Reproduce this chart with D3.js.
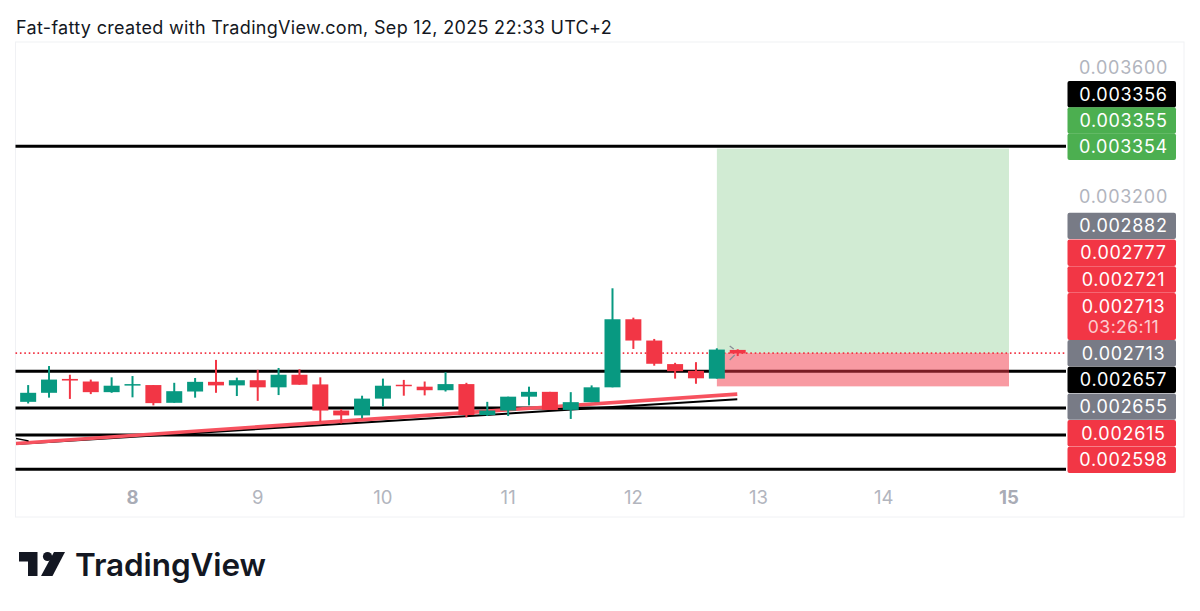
<!DOCTYPE html>
<html><head><meta charset="utf-8">
<script src="https://cdn.jsdelivr.net/npm/d3@7"></script>
<style>html,body{margin:0;padding:0;background:#fff}svg{display:block}text{font-family:Inter,"Noto Sans",sans-serif}</style>
</head><body><div id="chart"></div>
<script>
// Candle values (price), one per 4-hour bar
const open  = [2562,2590,2633,2625,2592,2613,2614,2559,2594,2624,2613,2629,2607,2646,2616,2535,2520,2572,2615,2609,2598,2617,2521,2535,2578,2593,2537,2561,2607,2818,2752,2679,2658,2634,2723];
const high  = [2614,2673,2646,2631,2638,2642,2614,2621,2636,2692,2637,2661,2667,2663,2638,2539,2581,2634,2630,2625,2654,2621,2562,2578,2609,2593,2592,2613,2914,2823,2757,2683,2685,2728,2725];
const low   = [2557,2575,2571,2586,2590,2576,2551,2559,2575,2590,2580,2565,2583,2615,2501,2495,2511,2547,2581,2582,2594,2514,2518,2518,2551,2537,2509,2561,2607,2726,2674,2634,2618,2634,2704];
const close = [2590,2631,2628,2592,2612,2617,2558,2595,2624,2613,2629,2607,2646,2615,2535,2520,2572,2612,2611,2598,2617,2521,2535,2578,2593,2537,2561,2607,2818,2752,2680,2657,2635,2724,2712];
const firstBarDay = 7.1667, barsPerDay = 6;
const hLevels = [3354, 2657, 2543, 2459, 2353];
const lastPrice = 2713;
const boxEntry = 2713, boxTarget = 3347, boxStop = 2610;
const boxDays = [12.667, 15];
const redTrend = [[7.07, 2433],[12.83, 2586]];
const blackTrend = [[7.07, 2431],[12.83, 2570]];
const blackStub = [[7.07, 2448],[7.17, 2441]];
const dayTicks = [8,9,10,11,12,13,14,15];
const boldDays = [8,15];
const priceTicks = [3600, 3200];
const tagTexts = ["0.003356","0.003355","0.003354","0.002882","0.002777","0.002721","0.002713","0.002713","0.002657","0.002655","0.002615","0.002598"];
const tagKinds = ["black","green","green","gray","red","red","red","gray","black","gray","red","red"];
const countdown = "03:26:11";
const title = "Fat-fatty created with TradingView.com, Sep 12, 2025 22:33 UTC+2";

const W=1200,H=611;
const paneL=15.5,paneR=1066,paneT=42,paneB=517,axisR=1184;
const x=d3.scaleLinear().domain([8,15]).range([132.5,1009]);
const y=d3.scaleLinear().domain([3677.5,2205]).range([42,517]);
const svg=d3.select("#chart").append("svg").attr("width",W).attr("height",H);
svg.append("rect").attr("x",paneL).attr("y",paneT).attr("width",axisR-paneL).attr("height",paneB-paneT).attr("fill","#fff").attr("stroke","#f0f1f4").attr("stroke-width",1);
svg.append("text").attr("x",16).attr("y",34).attr("font-size",18).attr("letter-spacing",0.32).attr("fill","#131722").text(title);

const line=d3.line().x(d=>x(d[0])).y(d=>y(d[1]));
// position box
svg.append("rect").attr("x",x(boxDays[0])).attr("width",x(boxDays[1])-x(boxDays[0])).attr("y",y(boxTarget)).attr("height",y(boxEntry)-y(boxTarget)).attr("fill","#d1ebd3");
// horizontals
svg.selectAll("line.h").data(hLevels).join("line").attr("class","h").attr("x1",paneL).attr("x2",paneR).attr("y1",d=>y(d)).attr("y2",d=>y(d)).attr("stroke","#000").attr("stroke-width",3);
svg.append("rect").attr("x",x(boxDays[0])).attr("width",x(boxDays[1])-x(boxDays[0])).attr("y",y(boxEntry)).attr("height",y(boxStop)-y(boxEntry)).attr("fill","#f23645").attr("fill-opacity",.5);
svg.append("line").attr("x1",paneL).attr("x2",paneR).attr("y1",y(lastPrice)).attr("y2",y(lastPrice)).attr("stroke","#f23645").attr("stroke-width",1.6).attr("stroke-dasharray","1.6 2.8");
// trend lines
svg.append("path").attr("d",line(blackTrend)).attr("stroke","#000").attr("stroke-width",2).attr("fill","none");
svg.append("path").attr("d",line(redTrend)).attr("stroke","#f7525f").attr("stroke-width",3.6).attr("fill","none");
svg.append("path").attr("d",line(blackStub)).attr("stroke","#000").attr("stroke-width",1.5).attr("fill","none");
// candles
const bars=d3.range(open.length).map(i=>({t:firstBarDay+i/barsPerDay,o:open[i],h:high[i],l:low[i],c:close[i]}));
const col=d=>d.c>=d.o?"#089981":"#f23645";
const bw=16;
svg.selectAll("line.w").data(bars).join("line").attr("class","w").attr("x1",d=>x(d.t)).attr("x2",d=>x(d.t)).attr("y1",d=>y(d.h)).attr("y2",d=>y(d.l)).attr("stroke",col).attr("stroke-width",2);
svg.selectAll("rect.b").data(bars).join("rect").attr("class","b").attr("x",d=>x(d.t)-bw/2).attr("width",bw).attr("y",d=>y(Math.max(d.o,d.c))).attr("height",d=>Math.max(1.5,Math.abs(y(d.o)-y(d.c)))).attr("fill",col);
// replay chevrons
const last=bars[bars.length-1];
svg.append("path").attr("d",`M${x(last.t)-8},346L${x(last.t)-4},349M${x(last.t)-8},360L${x(last.t)-3},355`).attr("stroke","#8a8d96").attr("stroke-width",1.3).attr("fill","none");
// time axis
svg.selectAll("text.d").data(dayTicks).join("text").attr("class","d").attr("x",d=>x(d)).attr("y",504).attr("text-anchor","middle").attr("font-size",18.5)
 .attr("fill",d=>boldDays.includes(d)?"#a9acb6":"#b2b5be").attr("font-weight",d=>boldDays.includes(d)?700:400).text(d=>d);
// price ticks
svg.selectAll("text.p").data(priceTicks).join("text").attr("class","p").attr("x",1123.5).attr("y",d=>y(d)+0.5).attr("dy","0.36em").attr("text-anchor","middle").attr("font-size",18).attr("letter-spacing",0.72).attr("fill","#b2b5be").text(d=>(d/1e6).toFixed(6));
// tags
const tagCol={black:"#000",green:"#4caf50",gray:"#787b86",red:"#f23645"};
const tagTops=[81,107.3,133.6,212.7,239.6,266.3,293,340,366.7,393.4,420,446.7];
const tagH=i=>i===6?47:26.4;
tagTexts.forEach((t,i)=>{
  svg.append("rect").attr("x",1067.5).attr("y",tagTops[i]).attr("width",108.5).attr("height",tagH(i)).attr("rx",2).attr("fill",tagCol[tagKinds[i]]);
  svg.append("text").attr("x",1123.5).attr("y",tagTops[i]+13.2).attr("dy","0.36em").attr("text-anchor","middle").attr("font-size",18).attr("letter-spacing",0.72).attr("fill","#fff").text(t);
});
svg.append("text").attr("x",1123.5).attr("y",327).attr("dy","0.36em").attr("text-anchor","middle").attr("font-size",17.6).attr("letter-spacing",0.4).attr("fill","#fff").attr("fill-opacity",.75).text(countdown);
// logo
const g=svg.append("g").attr("fill","#131722");
g.append("path").attr("d","M19,552H37.5V576H28V561.5H19Z");
g.append("circle").attr("cx",47.5).attr("cy",556.5).attr("r",4.6);
g.append("path").attr("d","M54,552H65L52.5,576H41Z");
g.append("text").attr("x",75).attr("y",575.5).attr("font-size",31.5).attr("font-weight",600).attr("letter-spacing","-0.1").text("TradingView");
</script></body></html>
